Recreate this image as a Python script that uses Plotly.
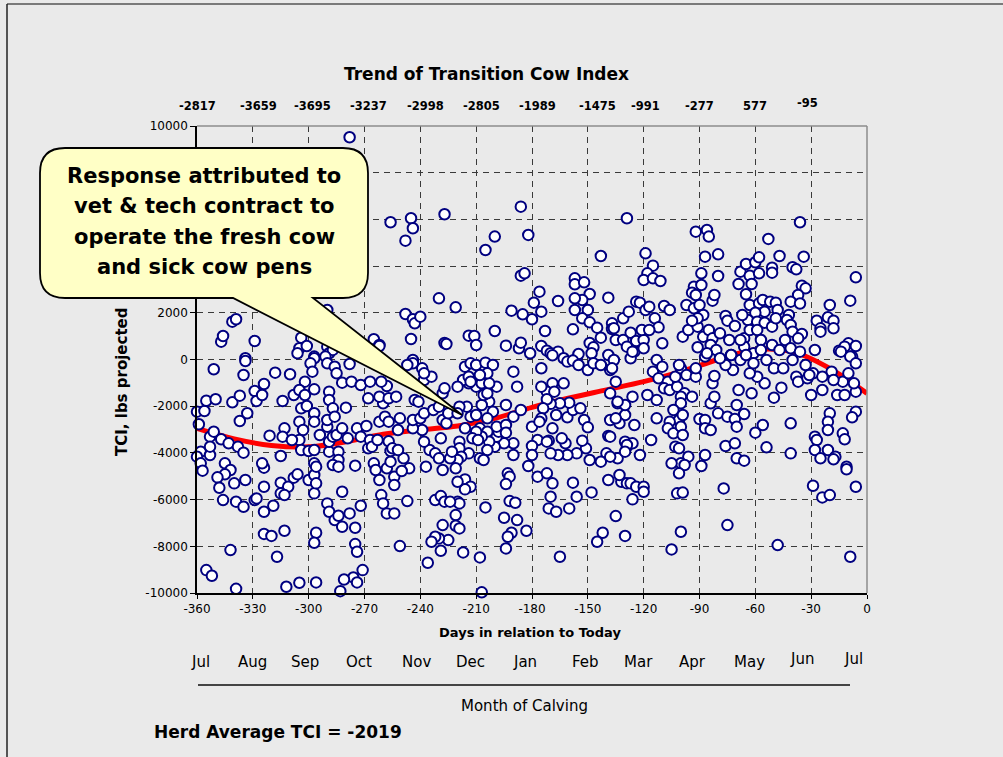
import plotly.graph_objects as go

# ---- data ----
# trend line (days before today, TCI)
trend_days = [-360, -340, -320, -300, -280, -260, -240, -220, -200, -180,
              -160, -140, -120, -100, -80, -60, -40, -20, 0]
trend_tci = [-2950, -3400, -3680, -3740, -3520, -3200, -3010, -2850, -2520, -2050,
             -1650, -1300, -950, -520, 0, 420, 340, -380, -1450]

# cows, Jul-Oct calvings (upper part)
left_hi = [(-278, 9518), (-256, 5877), (-274, 3119), (-341, 1620), (-339, 1722), (-347, 763),
           (-346, 1007), (-329, 793), (-304, 935), (-290, 2120), (-290, 551), (-265, 866),
           (-262, 622), (-297, 124), (-334, 52), (-305, 480), (-301, 580), (-306, 266),
           (-289, 266), (-287, 409), (-262, 580), (-291, 124)]

# cows, Jul-Oct calvings (lower part)
left_lo = [(-361, -993), (-351, -419), (-334, -63), (-335, -663), (-359, -2774), (-360, -2235),
           (-356, -2205), (-355, -1765), (-350, -1704), (-341, -1833), (-337, -1550), (-333, -2302),
           (-337, -2633), (-329, -1349), (-328, -1777), (-324, -1049), (-325, -1520), (-318, -564),
           (-314, -1777), (-310, -633), (-297, 52), (-299, -163), (-298, -520), (-302, -949),
           (-308, -1520), (-305, -1306), (-302, -1520), (-297, -1277), (-290, -163), (-286, -307),
           (-285, -592), (-278, -192), (-282, -993), (-277, -949), (-272, -1092), (-267, -949),
           (-289, -1377), (-289, -1734), (-287, -2090), (-280, -2063), (-304, -2090), (-301, -1991),
           (-297, -2302), (-297, -2663), (-305, -2663), (-303, -3020), (-305, -3447), (-313, -2948),
           (-314, -3305), (-321, -3262), (-309, -3447), (-353, -3305), (-351, -3091), (-358, -3948),
           (-360, -4162), (-358, -4448), (-361, -4848), (-357, -4762), (-353, -4090), (-353, -3734),
           (-347, -3419), (-343, -3591), (-338, -3734), (-335, -3991), (-345, -4448), (-342, -4733),
           (-345, -4919), (-349, -5048), (-348, -5491), (-340, -5305), (-334, -5162), (-346, -6020),
           (-339, -6090), (-335, -6305), (-329, -6020), (-328, -5948), (-324, -5448), (-324, -4633),
           (-325, -4448), (-315, -4134), (-315, -5276), (-311, -5448), (-315, -5733), (-313, -5805),
           (-308, -5062), (-306, -4919), (-319, -6262), (-324, -6520), (-324, -7470), (-320, -7556),
           (-313, -7334), (-317, -8448), (-342, -8162), (-361, -8920), (-355, -9020), (-352, -9263),
           (-339, -9820), (-312, -9734), (-305, -9562), (-296, -9547), (-296, -7420), (-297, -7848),
           (-290, -6162), (-289, -6520), (-286, -6876), (-284, -6691), (-282, -7162), (-278, -6590),
           (-275, -7205), (-275, -7905), (-274, -8234), (-271, -9020), (-276, -9334), (-281, -9420),
           (-283, -9920), (-274, -9547), (-282, -5662), (-272, -6262), (-275, -4548), (-300, -5162),
           (-297, -4948), (-297, -5733), (-296, -5305), (-297, -4448), (-296, -4591), (-304, -3877),
           (-300, -3919), (-297, -3877), (-294, -3234), (-289, -3948), (-289, -3519), (-287, -3305),
           (-290, -2877), (-290, -2591), (-286, -2448), (-285, -3234), (-282, -2948), (-284, -3948),
           (-284, -4305), (-287, -4519), (-284, -4591), (-279, -3377), (-274, -2948), (-269, -2848),
           (-272, -3305), (-268, -3805), (-267, -3447), (-266, -3734), (-263, -3447), (-265, -4448),
           (-264, -4733), (-262, -5162), (-258, -4662), (-254, -5019), (-256, -4376), (-256, -3919),
           (-257, -3505), (-254, -5376), (-261, -5805), (-260, -6162), (-258, -6590), (-254, -6590),
           (-251, -7990), (-262, -2663), (-259, -2448), (-257, -2663), (-260, -1877), (-268, -1663),
           (-262, -1591), (-257, -1663), (-253, -1591), (-258, -1134), (-261, -949)]

# cows, Nov-Mar calvings (upper part)
mid_hi = [(-245, 6048), (-244, 5620), (-248, 5091), (-227, 6219), (-186, 6547), (-200, 5263),
          (-205, 4691), (-182, 5334), (-129, 6048), (-143, 4434), (-186, 3590), (-184, 3690),
          (-176, 2905), (-179, 2434), (-175, 2048), (-180, 1722), (-185, 1934), (-191, 2091),
          (-166, 2505), (-157, 3476), (-157, 3219), (-152, 3305), (-149, 2805), (-153, 2549),
          (-157, 2620), (-139, 2648), (-157, 2120), (-150, 2120), (-153, 1763), (-149, 1591),
          (-145, 1363), (-137, 1549), (-137, 1306), (-143, 935), (-158, 1291), (-149, 706),
          (-147, 520), (-135, 836), (-139, 194), (-173, 1220), (-200, 1220), (-230, 2620),
          (-221, 2234), (-248, 1949), (-244, 1722), (-243, 1549), (-240, 1834), (-245, 879),
          (-227, 706), (-214, 1021), (-211, 1007), (-210, 622), (-194, 594), (-187, 480),
          (-186, 721), (-181, 266), (-175, 580), (-172, 380), (-170, 266), (-166, 337),
          (-244, -20), (-163, 52), (-156, 52), (-226, 665), (-169, 180), (-155, 237), (-148, 266)]

# cows, Nov-Mar calvings (lower part)
mid_lo = [(-175, -376), (-161, -91), (-158, -48), (-155, -234), (-150, -449), (-147, -163),
          (-143, -234), (-138, -449), (-135, -949), (-138, -1449), (-134, -1877), (-130, -2377),
          (-133, -2734), (-138, -2591), (-139, -3276), (-130, -3519), (-140, -4020), (-143, -4376),
          (-134, -4233), (-129, -3734), (-139, -5162), (-132, -5234), (-129, -5305), (-135, -6705),
          (-142, -7420), (-145, -7805), (-130, -7556), (-148, -5691), (-156, -5876), (-158, -5276),
          (-160, -6376), (-149, -4305), (-151, -3805), (-153, -3477), (-156, -4020), (-161, -4090),
          (-162, -3591), (-164, -3377), (-166, -4090), (-170, -4020), (-171, -3477), (-169, -2948),
          (-167, -2377), (-161, -2477), (-158, -2163), (-154, -2090), (-152, -2591), (-150, -2905),
          (-160, -1848), (-163, -1020), (-169, -1020), (-172, -1377), (-175, -1163), (-168, -1377),
          (-165, -1877), (-170, -1900), (-172, -1704), (-174, -2090), (-175, -2519), (-180, -2877),
          (-176, -2663), (-177, -3447), (-172, -3519), (-180, -3705), (-180, -4090), (-182, -4562),
          (-177, -5019), (-172, -4876), (-169, -5305), (-170, -5876), (-171, -6376), (-167, -6520),
          (-165, -8448), (-183, -7334), (-188, -6876), (-191, -7420), (-193, -7590), (-194, -8090),
          (-195, -6776), (-192, -6063), (-189, -6134), (-193, -4876), (-192, -5019), (-194, -5334),
          (-190, -4090), (-190, -3591), (-195, -3591), (-200, -3734), (-199, -3305), (-198, -3091),
          (-199, -2877), (-194, -2805), (-194, -3134), (-190, -2448), (-186, -2163), (-194, -1948),
          (-188, -1163), (-190, -520), (-199, -1163), (-203, -1805), (-201, -2235), (-204, -2519),
          (-208, -2948), (-204, -3091), (-203, -3519), (-207, -3305), (-204, -3877), (-208, -4233),
          (-206, -4305), (-214, -4020), (-207, -1948), (-206, -1520), (-204, -1449), (-210, -1163),
          (-207, -1020), (-203, -1020), (-214, -1020), (-216, -306), (-213, -163), (-210, -234),
          (-205, -134), (-201, -234), (-204, -592), (-208, -663), (-217, -877), (-220, -1163),
          (-215, -2020), (-213, -2448), (-210, -2377), (-216, -2948), (-210, -3091), (-212, -3377),
          (-209, -3447), (-219, -3519), (-219, -3805), (-218, -4162), (-220, -4305), (-221, -4662),
          (-216, -5134), (-213, -5448), (-216, -5562), (-220, -5234), (-220, -6090), (-219, -6162),
          (-221, -6662), (-221, -7120), (-219, -7234), (-228, -7091), (-225, -7734), (-230, -7662),
          (-232, -7591), (-234, -7805), (-229, -8191), (-236, -8705), (-217, -8262), (-208, -8477),
          (-205, -6334), (-207, -9970), (-232, -6020), (-229, -5848), (-227, -6090), (-224, -6090),
          (-247, -6063), (-237, -4591), (-249, -4233), (-246, -4662), (-250, -4776), (-235, -3877),
          (-238, -3519), (-232, -4020), (-230, -4233), (-228, -4733), (-224, -4233), (-223, -3948),
          (-229, -3377), (-228, -2591), (-226, -2734), (-225, -2305), (-239, -3020), (-244, -2948),
          (-244, -2591), (-240, -2519), (-251, -2519), (-252, -3020), (-255, -3805), (-252, -3877),
          (-243, -1734), (-241, -1805), (-238, -2305), (-233, -2163), (-230, -2020), (-228, -1449),
          (-227, -1234), (-238, -877), (-234, -734), (-239, -377), (-244, -163), (-247, -234),
          (-238, -592), (-219, -2020), (-220, -2305), (-214, -734), (-213, -949)]

# cows, Mar-Jul calvings (upper part)
right_hi = [(-92, 5476), (-86, 5548), (-85, 5263), (-36, 5877), (-53, 5163), (-119, 4548),
            (-115, 4020), (-118, 3690), (-120, 3405), (-115, 3476), (-111, 3362), (-87, 4405),
            (-80, 4505), (-89, 3690), (-80, 3576), (-93, 3119), (-94, 2862), (-92, 2763),
            (-89, 3191), (-97, 2335), (-93, 2192), (-88, 1906), (-90, 2335), (-83, 2520),
            (-82, 2763), (-68, 3762), (-65, 4091), (-60, 4163), (-58, 4377), (-63, 3590),
            (-58, 3690), (-69, 3234), (-62, 3234), (-65, 2793), (-51, 3934), (-51, 3719),
            (-47, 4434), (-40, 3949), (-38, 3862), (-34, 4405), (-35, 3162), (-33, 3048),
            (-37, 2763), (-41, 2477), (-36, 2400), (-6, 3520), (-9, 2520), (-20, 2335),
            (-27, 1663), (-25, 1336), (-25, 1192), (-21, 1806), (-18, 1663), (-18, 1336),
            (-28, 407), (-15, 380), (-10, 694), (-6, 580), (-8, 124),
            (-63, 2335), (-58, 2407), (-56, 2549), (-52, 2477), (-49, 2434), (-48, 2120),
            (-55, 2048), (-60, 2006), (-64, 1692), (-67, 1906), (-59, 1620), (-55, 1577),
            (-51, 1406), (-49, 1763), (-42, 1906), (-43, 1692), (-41, 1477), (-40, 1192),
            (-35, 1091), (-37, 908), (-76, 1863), (-75, 1663), (-71, 1435), (-66, 908),
            (-63, 1264), (-59, 1264), (-57, 836), (-51, 622), (-47, 407), (-44, 836),
            (-41, 480), (-36, 337), (-61, 266), (-66, 551), (-68, 836), (-99, 977),
            (-96, 1264), (-91, 1406), (-91, 1763), (-94, 1663), (-88, 977), (-85, 1264),
            (-83, 908), (-79, 1120), (-84, 622), (-81, 407), (-91, 523), (-87, 124),
            (-74, 836), (-73, 194), (-131, 1763), (-128, 2048), (-124, 2477), (-122, 2434),
            (-119, 2120), (-117, 2263), (-114, 1763), (-112, 1378), (-127, 1149), (-124, 793),
            (-120, 836), (-121, 1264), (-117, 1264), (-131, 836), (-129, 551), (-125, 337),
            (-120, 480), (-110, 694), (-109, 2291), (-106, 2120), (-136, 1336), (-127, 52),
            (-126, 337)]

# cows, Mar-Jul calvings (lower part)
right_lo = [(-136, -20), (-137, -377), (-113, -20), (-115, -520), (-110, -306), (-112, -806),
            (-107, -949), (-109, -1234), (-106, -1306), (-102, -1163), (-103, -734), (-100, -377),
            (-101, -234), (-97, -663), (-92, -734), (-92, -377), (-98, -1449), (-94, -1591),
            (-100, -1591), (-100, -1877), (-104, -2163), (-101, -2591), (-99, -2377), (-106, -2663),
            (-107, -2948), (-104, -3162), (-100, -2877), (-99, -3234), (-103, -3734), (-101, -3805),
            (-96, -4162), (-100, -4448), (-98, -4519), (-105, -4448), (-101, -4876), (-102, -5733),
            (-99, -5700), (-100, -7377), (-105, -8134), (-113, -2519), (-113, -1734), (-118, -1520),
            (-116, -3447), (-122, -4090), (-126, -3591), (-129, -3662), (-130, -3948), (-138, -3305),
            (-138, -4162), (-125, -2805), (-135, -2519), (-130, -1948), (-134, -1805), (-126, -1591),
            (-133, -4948), (-127, -5305), (-124, -5448), (-120, -5448), (-120, -5662), (-126, -5990),
            (-90, -2548), (-87, -2591), (-87, -2948), (-84, -3020), (-89, -4562), (-87, -4090),
            (-84, -1877), (-82, -1591), (-83, -1020), (-82, -706), (-80, -2305), (-75, -2448),
            (-71, -2548), (-70, -2877), (-66, -2334), (-70, -1948), (-69, -1306), (-76, -3705),
            (-71, -3591), (-70, -4233), (-66, -4334), (-77, -5520), (-75, -7091), (-62, -1449),
            (-60, -3134), (-56, -2805), (-54, -3762), (-50, -1634), (-46, -1206), (-41, -2734),
            (-41, -4020), (-48, -7948), (-55, -1020), (-59, -734), (-63, -592), (-61, -163),
            (-72, -449), (-76, -234), (-86, 266), (-79, 52), (-73, 194), (-68, -20),
            (-65, 194), (-57, 407), (-54, -20), (-50, -377), (-45, -377), (-40, -20),
            (-33, -234), (-38, -734), (-37, -949), (-30, -1520), (-29, -592), (-24, -1306),
            (-19, -520), (-13, -949), (-10, -592), (-6, -1377), (-7, -1020), (-12, 551),
            (-14, 337), (-9, 124), (-6, -163), (-16, -1520), (-12, -1520), (-20, -2305),
            (-21, -2663), (-21, -3020), (-13, -3162), (-12, -3419), (-6, -2235), (-8, -2477),
            (-28, -3305), (-27, -3447), (-28, -3877), (-21, -3877), (-25, -4233), (-17, -4162),
            (-18, -4276), (-11, -4591), (-11, -4705), (-29, -5405), (-24, -5905), (-20, -5805),
            (-6, -5448), (-9, -8448), (-32, -806), (-31, -663), (-24, -734), (-18, -877)]

# monthly average TCI shown above the plot
top_days = [-360, -327, -298, -268, -237, -207, -177, -145, -119, -90, -60, -32]
top_vals = ["-2817", "-3659", "-3695", "-3237", "-2998", "-2805", "-1989", "-1475", "-991",
            "-277", "577", "-95"]

# month-of-calving labels under the axis
month_days = [-358, -330, -302, -273, -242, -213, -184, -151, -123, -94, -63, -35, -7]
month_names = ["Jul", "Aug", "Sep", "Oct", "Nov", "Dec", "Jan", "Feb", "Mar", "Apr", "May", "Jun", "Jul"]

x_ticks = [-360, -330, -300, -270, -240, -210, -180, -150, -120, -90, -60, -30, 0]
y_ticks = [-10000, -8000, -6000, -4000, -2000, 0, 2000, 4000, 6000, 8000, 10000]
# 4000-8000 labels sit behind the callout balloon in the original
y_hidden = [4000, 6000, 8000]

herd_avg = -2019

# ---- layout helpers (pixel -> paper) ----
L, R, T, B = 197, 867, 126, 593
W, H = 1003, 757


def px(x):
    return (x - L) / (R - L)


def py(y):
    return (B - y) / (B - T)


FONT = "DejaVu Sans, Verdana, Arial, sans-serif"
BG = "#EAEAEA"

pts = left_hi + left_lo + mid_hi + mid_lo + right_hi + right_lo
cow_days = [p[0] for p in pts]
cow_tci = [p[1] for p in pts]

fig = go.Figure()

fig.add_trace(go.Scatter(
    x=trend_days, y=trend_tci, mode="lines", line=dict(color="#FF0000", width=5, shape="spline"),
    hoverinfo="skip"
))

fig.add_trace(go.Scatter(
    x=cow_days, y=cow_tci, mode="markers", cliponaxis=False,
    marker=dict(symbol="circle", size=10.5, color="white", line=dict(color="#000080", width=2))
))

fig.update_layout(
    width=W, height=H,
    margin=dict(l=L, r=W - R, t=T, b=H - B),
    paper_bgcolor=BG, plot_bgcolor=BG,
    showlegend=False,
    font=dict(family=FONT, color="black", size=12),
    xaxis=dict(
        range=[-360, 0], tickvals=x_ticks, ticktext=[str(v) for v in x_ticks],
        showgrid=True, gridcolor="#3a3a3a", gridwidth=1, griddash="6px,5px",
        zeroline=False, showline=True, linecolor="black", linewidth=1.5,
        ticks="outside", ticklen=4, tickcolor="black", tickfont=dict(size=12)
    ),
    yaxis=dict(
        range=[-10000, 10000], tickvals=y_ticks,
        ticktext=["" if v in y_hidden else str(v) for v in y_ticks],
        showgrid=True, gridcolor="#3a3a3a", gridwidth=1, griddash="6px,5px",
        zeroline=False, showline=True, linecolor="black", linewidth=1.5,
        ticks="outside", ticklen=5, tickcolor="black", tickfont=dict(size=12)
    )
)

shapes = []
# grey frame on top and right of the plot
shapes.append(dict(type="line", xref="paper", yref="paper", x0=0, x1=1, y0=1, y1=1,
                   line=dict(color="#8c8c8c", width=1.5)))
shapes.append(dict(type="line", xref="paper", yref="paper", x0=1, x1=1, y0=0, y1=1,
                   line=dict(color="#8c8c8c", width=1.5)))
# outer border of the chart object
shapes.append(dict(type="line", xref="paper", yref="paper", x0=px(7), x1=px(W + 5), y0=py(4), y1=py(4),
                   line=dict(color="#555555", width=1.5)))
shapes.append(dict(type="line", xref="paper", yref="paper", x0=px(7), x1=px(7), y0=py(4), y1=py(H + 5),
                   line=dict(color="#222222", width=1.5)))
# rule above "Month of Calving"
shapes.append(dict(type="line", xref="paper", yref="paper", x0=px(198), x1=px(850), y0=py(685), y1=py(685),
                   line=dict(color="#444444", width=2)))

# callout balloon
r = 25
cl, cr, ct, cb = 40, 368, 148, 298
tip = (462, 415)


def P(x, y):
    return f"{px(x):.5f},{py(y):.5f}"


path = (f"M {P(cl + r, ct)} L {P(cr - r, ct)} Q {P(cr, ct)} {P(cr, ct + r)} "
        f"L {P(cr, cb - r)} Q {P(cr, cb)} {P(cr - r, cb)} L {P(313, cb)} L {P(*tip)} "
        f"L {P(233, cb)} L {P(cl + r, cb)} Q {P(cl, cb)} {P(cl, cb - r)} "
        f"L {P(cl, ct + r)} Q {P(cl, ct)} {P(cl + r, ct)} Z")
shapes.append(dict(type="path", xref="paper", yref="paper", path=path, layer="above",
                   fillcolor="#FFFFC6", line=dict(color="black", width=1.8)))

fig.update_layout(shapes=shapes)


def label(text, x, y, size, xref="paper", xanchor="center", angle=0):
    return dict(text=text, xref=xref, yref="paper", x=x, y=y, xanchor=xanchor, yanchor="middle",
                textangle=angle, showarrow=False, font=dict(size=size))


ann = []
ann.append(label("<b>Trend of Transition Cow Index</b>", px(486), py(74), 17))
for d, v in zip(top_days, top_vals):
    yy = py(103) if v == "-95" else py(106)
    ann.append(label(f"<b>{v}</b>", d, yy, 11.5, xref="x"))
ann.append(label("<b>Days in relation to Today</b>", px(530), py(632), 13))
for d, m in zip(month_days, month_names):
    yy = py(659) if d > -40 else py(662)
    ann.append(label(m, d, yy, 15, xref="x"))
ann.append(label("Month of Calving", px(524), py(706), 15))
ann.append(label(f"<b>Herd Average TCI = {herd_avg}</b>", px(152), py(732), 17, xanchor="left"))
# axis title: the upper part of it sits behind the callout in the original
ann.append(label("<b>TCI, lbs projected</b>", px(122), py(382), 15, angle=-90))

callout_lines = ["Response attributed to", "vet & tech contract to", "operate the fresh cow",
                 "and sick cow pens"]
for line, yy in zip(callout_lines, [176, 206, 237, 267]):
    ann.append(label(f"<b>{line}</b>", px(204), py(yy), 21))

fig.update_layout(annotations=ann)

fig.write_html("out.html", config={"displayModeBar": False},
               post_script="document.body.style.margin='0px';")
